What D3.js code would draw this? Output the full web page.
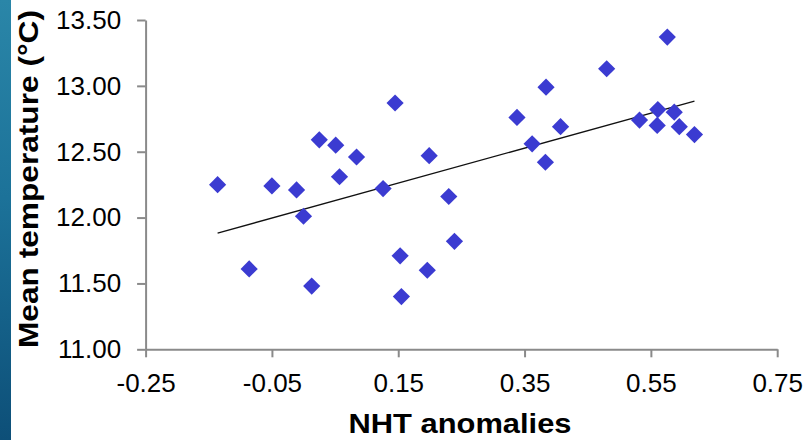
<!DOCTYPE html>
<html>
<head>
<meta charset="utf-8">
<script src="https://cdn.jsdelivr.net/npm/d3@7"></script>
<style>
  html, body { margin: 0; padding: 0; background: #ffffff; }
  svg { display: block; }
  text { font-family: "Liberation Sans", Arial, sans-serif; fill: #000; }
</style>
</head>
<body>
<svg id="chart" width="807" height="440"></svg>
<script>
// NHT anomaly vs mean temperature, one point per year
const nhtAnomaly = [
  -0.136, -0.086, -0.050, -0.011, 0.000, 0.013, 0.025, 0.051, 0.057, 0.084,
   0.126,  0.145,  0.153,  0.155, 0.196, 0.199, 0.230, 0.239, 0.338, 0.362,
   0.383,  0.384,  0.407,  0.480, 0.532, 0.561, 0.560, 0.587, 0.595, 0.619,
   0.576
];
const meanTemp = [
  12.25, 11.61, 12.24, 12.21, 12.01, 11.48, 12.59, 12.55, 12.31, 12.46,
  12.22, 12.87, 11.71, 11.40, 11.60, 12.47, 12.16, 11.82, 12.76, 12.56,
  12.42, 12.99, 12.69, 13.13, 12.74, 12.82, 12.70, 12.80, 12.69, 12.63,
  13.37
];
const xTicks = [-0.25, -0.05, 0.15, 0.35, 0.55, 0.75];
const yTicks = [11.00, 11.50, 12.00, 12.50, 13.00, 13.50];
const xTitle = "NHT anomalies";
const yTitle = "Mean temperature (°C)";

const svg = d3.select("#chart");

// slide background strip on the left edge
const defs = svg.append("defs");
const grad = defs.append("linearGradient")
  .attr("id", "sea").attr("x1", 0).attr("y1", 0).attr("x2", 0).attr("y2", 1);
grad.append("stop").attr("offset", "0%").attr("stop-color", "#2a86a8");
grad.append("stop").attr("offset", "45%").attr("stop-color", "#1c7299");
grad.append("stop").attr("offset", "100%").attr("stop-color", "#0d4f78");
svg.append("rect").attr("x", 0).attr("y", 0).attr("width", 11).attr("height", 440)
  .attr("fill", "url(#sea)");

const x = d3.scaleLinear().domain([-0.25, 0.75]).range([145.6, 777.2]);
const y = d3.scaleLinear().domain([11, 13.5]).range([349.3, 20]);

const axisColor = "#8a8a8a";
// two decimals with a plain hyphen for negatives
const fmt = v => v.toFixed(2);

// y axis
const gy = svg.append("g").attr("transform", `translate(${x(-0.25)},0)`)
  .call(d3.axisLeft(y).tickValues(yTicks).tickSize(8.5).tickSizeOuter(0)
    .tickPadding(16).tickFormat(fmt));
// x axis
const gx = svg.append("g").attr("transform", `translate(0,${y(11)})`)
  .call(d3.axisBottom(x).tickValues(xTicks).tickSize(8).tickSizeOuter(0)
    .tickPadding(16).tickFormat(fmt));

[gx, gy].forEach(g => {
  g.select(".domain").attr("stroke", axisColor).attr("stroke-width", 2);
  g.selectAll(".tick line").attr("stroke", axisColor).attr("stroke-width", 2);
  g.selectAll(".tick text").attr("font-size", 26)
    .attr("font-family", "'Liberation Sans', Arial, sans-serif").attr("fill", "#000");
});

// least-squares trend line over the data's x range
const n = nhtAnomaly.length;
const mx = d3.mean(nhtAnomaly), my = d3.mean(meanTemp);
let sxy = 0, sxx = 0;
for (let i = 0; i < n; i++) {
  sxy += (nhtAnomaly[i] - mx) * (meanTemp[i] - my);
  sxx += (nhtAnomaly[i] - mx) ** 2;
}
const slope = sxy / sxx, icpt = my - slope * mx;
const [xmin, xmax] = d3.extent(nhtAnomaly);
svg.append("line")
  .attr("x1", x(xmin)).attr("y1", y(icpt + slope * xmin))
  .attr("x2", x(xmax)).attr("y2", y(icpt + slope * xmax))
  .attr("stroke", "#111").attr("stroke-width", 1.3);

// diamond markers
const diamond = d3.symbol().type(d3.symbolSquare).size(148)();
svg.append("g").selectAll("path")
  .data(d3.range(n))
  .join("path")
  .attr("d", diamond)
  .attr("transform", i => `translate(${x(nhtAnomaly[i])},${y(meanTemp[i])}) rotate(45)`)
  .attr("fill", "#3b3bd1");

// axis titles
svg.append("text")
  .attr("x", 460).attr("y", 433)
  .attr("text-anchor", "middle")
  .attr("font-size", 28).attr("font-weight", "bold")
  .attr("textLength", 223).attr("lengthAdjust", "spacingAndGlyphs")
  .text(xTitle);

svg.append("text")
  .attr("transform", "translate(38,179) rotate(-90)")
  .attr("text-anchor", "middle")
  .attr("font-size", 28).attr("font-weight", "bold")
  .attr("textLength", 338).attr("lengthAdjust", "spacingAndGlyphs")
  .text(yTitle);
</script>
</body>
</html>
